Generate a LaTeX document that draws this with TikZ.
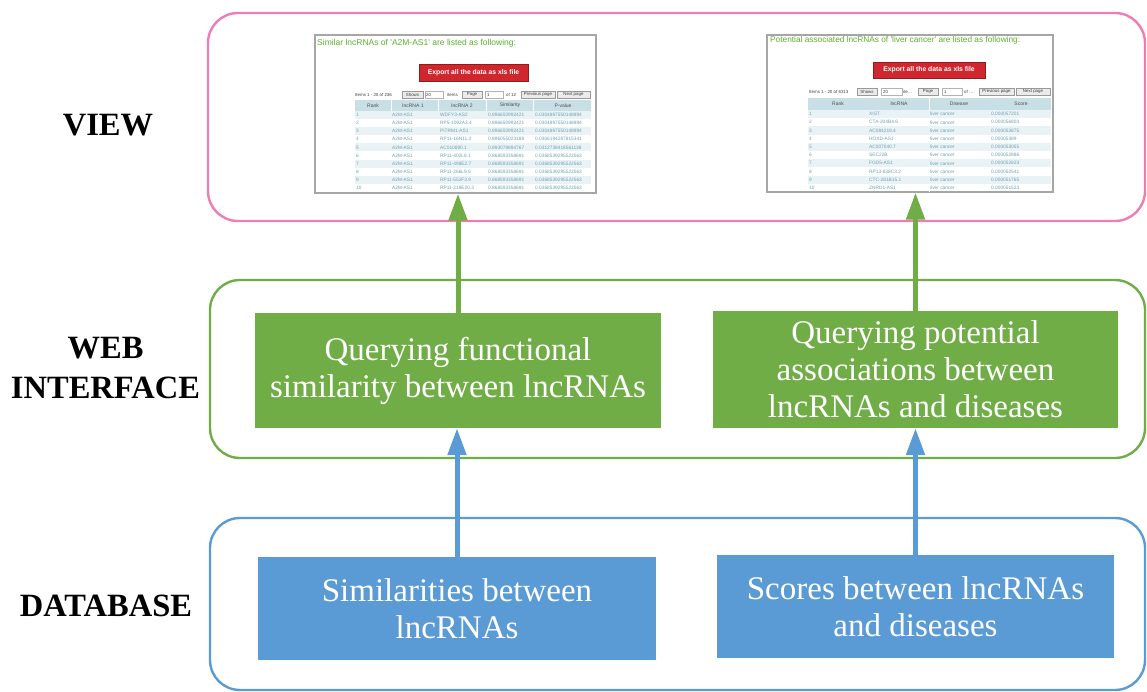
\documentclass[tikz,border=0pt]{standalone}
\usepackage{fontspec}
\setmainfont{Liberation Serif}
\newfontfamily\websans{Liberation Sans}
\usetikzlibrary{arrows.meta}
\definecolor{viewpink}{HTML}{EE7DB6}
\definecolor{webgreen}{HTML}{70AD47}
\definecolor{dbblue}{HTML}{5B9BD5}
\definecolor{shotgray}{HTML}{A6A6A6}
\definecolor{titlegreen}{HTML}{5FAE2E}
\definecolor{btnred}{HTML}{D0262D}
\definecolor{hdrblue}{HTML}{C8DFE6}
\definecolor{rowblue}{HTML}{E9F3F6}
\definecolor{celltext}{HTML}{6F9FB3}

\begin{document}
\begin{tikzpicture}[x=1pt,y=-1pt,
  layer/.style={rounded corners=30pt, line width=2.4pt},
  lvl/.style={font=\bfseries\fontsize{32.5}{40}\selectfont, align=center, inner sep=0pt},
  block/.style={text=white, font=\fontsize{33}{37}\selectfont, align=center, inner sep=0pt},
  up/.style={-{Triangle[width=18pt,length=27pt]}, line width=5pt},
  shot/.style={draw=shotgray, fill=white, line width=1.2pt, inner sep=0pt},
  ui/.style={font=\websans\fontsize{4.4}{4.4}\selectfont, inner sep=0pt, text=black!75},
  btn/.style={ui, draw=black!40, fill=black!8, line width=0.4pt, minimum height=7pt},
  field/.style={draw=black!30, fill=white, line width=0.4pt, inner sep=0pt, minimum height=7pt},
  hdr/.style={font=\websans\fontsize{5}{5}\selectfont, text=black!70, inner sep=0pt},
  cell/.style={font=\websans\fontsize{4.8}{4.8}\selectfont, text=celltext, inner sep=0pt, anchor=west},
  export/.style={fill=btnred, draw=btnred!70!black, line width=0.6pt, text=white, font=\websans\bfseries\fontsize{6.8}{6.8}\selectfont, inner sep=0pt},
  title/.style={anchor=base west, inner sep=0pt, text=titlegreen}]
  \useasboundingbox (0,0) rectangle (1147,692);

  % three layers
  \draw[layer, viewpink] (208,13) rectangle (1145,221);
  \draw[layer, webgreen] (210,280) rectangle (1145,458);
  \draw[layer, dbblue] (210,518) rectangle (1145,690);
  \node[lvl] (lview) at (108,125.5) {VIEW};
  \node[lvl] (lweb) at (105.5,368) {WEB\\INTERFACE};
  \node[lvl] (ldb) at (106,606) {DATABASE};

  % blocks
  \node[block, fill=webgreen, minimum width=406pt, minimum height=115pt] (qsim) at (458,370.5) {Querying functional\\similarity between lncRNAs};
  \node[block, fill=webgreen, minimum width=405pt, minimum height=117pt] (qasc) at (915.5,369.5) {Querying potential\\associations between\\lncRNAs and diseases};
  \node[block, fill=dbblue, minimum width=398pt, minimum height=103pt] (dsim) at (457,608.5) {Similarities between\\lncRNAs};
  \node[block, fill=dbblue, minimum width=397pt, minimum height=103pt] (dasc) at (915.5,606.5) {Scores between lncRNAs\\and diseases};

  % left screenshot
  \node[shot, minimum width=281pt, minimum height=158pt] (shotL) at (455.5,114) {};
  \node[title, font=\websans\fontsize{8.5}{8.5}\selectfont] (titL) at (317,46) {Similar lncRNAs of \textquotesingle A2M-AS1\textquotesingle{} are listed as following:};
  \node[export, minimum width=109pt, minimum height=17pt] (expL) at (473.5,72.5) {Export all the data as xls file};
  \node[ui, anchor=west] (itmL) at (355,94.5) {Items 1 - 20 of 236};
  \foreach \x/\w/\t/\n in {412.5/21/Shows/shw, 472/20/Page/pg, 538/34/Previous page/prv, 573.5/33/Next page/nxt}
    \node[btn, minimum width=\w pt] (L\n) at (\x,94.5) {\t};
  \node[field, minimum width=18pt] (Lfa) at (434,94.5) {};
  \node[field, minimum width=18pt] (Lfb) at (494,94.5) {};
  \foreach \x/\t/\n in {426/20/a, 447/items/b, 487/1/c, 506/of 12/d}
    \node[ui, anchor=west] (Lu\n) at (\x,94.5) {\t};
  \fill[hdrblue] (355,100) rectangle (591,111);
  \foreach \x in {391,438,486,533}
    \draw[white, line width=0.6pt] (\x,100) -- (\x,111);
  \foreach \x/\t/\n in {373/Rank/a, 413/lncRNA 1/b, 462/lncRNA 2/c, 510/Similarity/d, 563/P-value/e}
    \node[hdr] (Lh\n) at (\x,105.5) {\t};
  \foreach \r/\a/\b/\s/\p in {1/A2M-AS1/WDFY3-AS2/0.896650992421/0.0304897550148894,
      2/A2M-AS1/RP5-1092A3.4/0.896650992421/0.0304897550148894,
      3/A2M-AS1/PITRM1-AS1/0.896650992421/0.0304897550148894,
      4/A2M-AS1/RP11-16N11.2/0.896055023189/0.0306194287815341,
      5/A2M-AS1/AC010890.1/0.893078894767/0.0312738418561138,
      6/A2M-AS1/RP11-402L8.1/0.868593358691/0.0368539295522563,
      7/A2M-AS1/RP11-498E2.7/0.868593358691/0.0368539295522563,
      8/A2M-AS1/RP11-266L9.5/0.868593358691/0.0368539295522563,
      9/A2M-AS1/RP11-552F3.9/0.868593358691/0.0368539295522563,
      10/A2M-AS1/RP11-218E20.3/0.868593358691/0.0368539295522563}{
    \pgfmathsetmacro{\yy}{111+(\r-1)*8.1}
    \ifodd\r \fill[rowblue] (355,\yy) rectangle (591,\yy+8.1); \fi
    \node[cell] (Lr\r) at (356,\yy+4.05) {\r};
    \node[cell] (La\r) at (392,\yy+4.05) {\a};
    \node[cell] (Lb\r) at (440,\yy+4.05) {\b};
    \node[cell] (Ls\r) at (488,\yy+4.05) {\s};
    \node[cell] (Lp\r) at (535,\yy+4.05) {\p};
  }

  % right screenshot
  \node[shot, minimum width=286pt, minimum height=157pt] (shotR) at (910,113.5) {};
  \node[title, font=\websans\fontsize{8.3}{8.3}\selectfont] (titR) at (770,43) {Potential associated lncRNAs of \textquotesingle liver cancer\textquotesingle{} are listed as following:};
  \node[export, minimum width=112pt, minimum height=16pt] (expR) at (929,70) {Export all the data as xls file};
  \node[ui, anchor=west] (itmR) at (809,91.5) {Items 1 - 20 of 6313};
  \foreach \x/\w/\t/\n in {867/20/Shows/shw, 928/20/Page/pg, 996.5/35/Previous page/prv, 1033/34/Next page/nxt}
    \node[btn, minimum width=\w pt] (R\n) at (\x,91.5) {\t};
  \node[field, minimum width=21pt] (Rfa) at (891.5,91.5) {};
  \node[field, minimum width=20pt] (Rfb) at (952,91.5) {};
  \foreach \x/\t/\n in {883/20/a, 903/ite\ldots/b, 944/1/c, 964/of \ldots/d}
    \node[ui, anchor=west] (Ru\n) at (\x,91.5) {\t};
  \fill[hdrblue] (808,98) rectangle (1051,110);
  \draw[white, line width=0.6pt] (929,98) -- (929,192);
  \foreach \x/\t/\n in {838/Rank/a, 899/lncRNA/b, 959/Disease/c, 1021/Score/d}
    \node[hdr] (Rh\n) at (\x,104) {\t};
  \foreach \r/\a/\s in {1/XIST/0.000057201, 2/CTA-204B4.6/0.000056803, 3/AC084219.4/0.000053875,
      4/HOXD-AS1/0.00005389, 5/AC007040.7/0.000053055, 6/SEC22B/0.000052886,
      7/FGD5-AS1/0.000052823, 8/RP13-638C3.2/0.000052541, 9/CTC-281B15.1/0.000051765,
      10/ZNRD1-AS1/0.000051523}{
    \pgfmathsetmacro{\yy}{110+(\r-1)*8.2}
    \ifodd\r \fill[rowblue] (808,\yy) rectangle (1051,\yy+8.2); \fi
    \node[cell] (Rr\r) at (809,\yy+4.1) {\r};
    \node[cell] (Ra\r) at (869,\yy+4.1) {\a};
    \node[cell] (Rd\r) at (930,\yy+4.1) {liver cancer};
    \node[cell] (Rs\r) at (991,\yy+4.1) {\s};
  }

  % arrows between layers
  \draw[up, dbblue] (dsim.north) -- (dsim.north |- qsim.south);
  \draw[up, dbblue] (dasc.north) -- (dasc.north |- qasc.south);
  \draw[up, webgreen] (qsim.north) -- (qsim.north |- shotL.south);
  \draw[up, webgreen] (qasc.north) -- (qasc.north |- shotR.south);
\end{tikzpicture}
\end{document}
